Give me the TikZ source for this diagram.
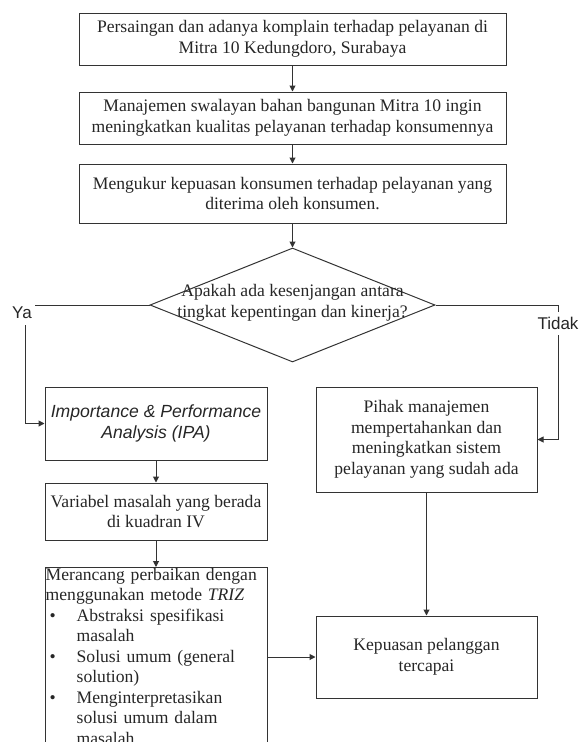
\documentclass[tikz,border=0pt]{standalone}
\usepackage{fontspec}
\setmainfont{Liberation Serif}
\newfontfamily\arialfont{Liberation Sans}
\usetikzlibrary{shapes.geometric, arrows.meta, positioning, calc}

\newcommand{\boxfont}{\fontsize{17.6}{20.5}\selectfont}
\newcommand{\ipafont}{\arialfont\itshape\fontsize{17.6}{20.5}\selectfont}
\newcommand{\labelfont}{\arialfont\fontsize{17}{20}\selectfont}
\newcommand{\trizitem}[1]{\par\hangindent=31pt\hangafter=1\noindent\makebox[31pt][l]{\hspace{4pt}\textbullet}#1\par}

\tikzset{
  box/.style={draw=black!80, line width=1pt, rectangle, align=center, inner sep=0pt, text=black!85, font=\boxfont},
  arr/.style={-{Triangle[length=6pt,width=6pt]}, line width=1pt, draw=black!80},
  lbl/.style={fill=white, inner sep=0pt, text=black!85, font=\labelfont}
}

\begin{document}
\begin{tikzpicture}[x=1pt, y=-1pt]
                \clip (0,0) rectangle (583,742);

                % Alur atas
                \node[box, minimum width=427pt, minimum height=52pt] (saing) at (292.5,39)
                  {Persaingan dan adanya komplain terhadap pelayanan di\\Mitra 10 Kedungdoro, Surabaya};
                \node[box, minimum width=427pt, minimum height=52pt] (mutu) at (292.5,118)
                  {Manajemen swalayan bahan bangunan Mitra 10 ingin\\meningkatkan kualitas pelayanan terhadap konsumennya};
                \node[box, minimum width=427pt, minimum height=59pt] (ukur) at (292.5,193.5)
                  {Mengukur kepuasan konsumen terhadap pelayanan yang\\diterima oleh konsumen.};
                \draw[arr] (saing) -- (mutu);
                \draw[arr] (mutu) -- (ukur);

                % Keputusan
                \node[draw=black!80, line width=1pt, diamond, minimum width=285pt, minimum height=114pt, inner sep=0pt] (cek) at (292.5,305) {};
                \node[inner sep=0pt, align=center, text=black!85, font=\boxfont] (cek-teks) at (292.5,303)
                  {Apakah ada kesenjangan antara\\tingkat kepentingan dan kinerja?};
                \draw[arr] (ukur) -- (cek.north);

                % Cabang Ya
                \node[box, minimum width=222pt, minimum height=73pt, font=\ipafont] (ipa) at (156,423.5)
                  {Importance \& Performance\\Analysis (IPA)};
                \node[box, minimum width=222pt, minimum height=57pt] (var) at (156,511.5)
                  {Variabel masalah yang berada\\di kuadran IV};
                \node[box, minimum width=222pt, minimum height=240pt, anchor=north] (triz) at (156,567) {};
                \node[anchor=north west, inner sep=1pt, text width=218pt, align=left, text=black!85, font=\boxfont] (triz-teks) at (triz.north west)
                  {Merancang perbaikan dengan\\menggunakan metode \textit{TRIZ}
                   \trizitem{Abstraksi spesifikasi\newline masalah}
                   \trizitem{Solusi umum (general\newline solution)}
                   \trizitem{Menginterpretasikan\newline solusi umum dalam\newline masalah}};
                \coordinate (ya-belok) at (25,305);
                \draw[arr] (cek.west) -- (ya-belok) |- (ipa.west);
                \node[lbl, minimum width=26pt, minimum height=24pt] (ya) at (22,313) {Ya};
                \draw[arr] (ipa) -- (var);
                \draw[arr] (var) -- (triz.north);

                % Cabang Tidak
                \node[box, minimum width=221pt, minimum height=105pt] (pihak) at (426.5,439.5)
                  {Pihak manajemen\\mempertahankan dan\\meningkatkan sistem\\pelayanan yang sudah ada};
                \coordinate (tidak-belok) at (558,305);
                \draw[arr] (cek.east) -- (tidak-belok) |- (pihak.east);
                \node[lbl, minimum width=42pt, minimum height=23pt] (tidak) at (558,323.5) {Tidak};

                % Hasil
                \node[box, minimum width=221pt, minimum height=82pt] (puas) at (426.5,657)
                  {Kepuasan pelanggan\\tercapai};
                \draw[arr] (pihak) -- (puas);
                \draw[arr] (puas.west -| triz.east) -- (puas);
\end{tikzpicture}
\end{document}
